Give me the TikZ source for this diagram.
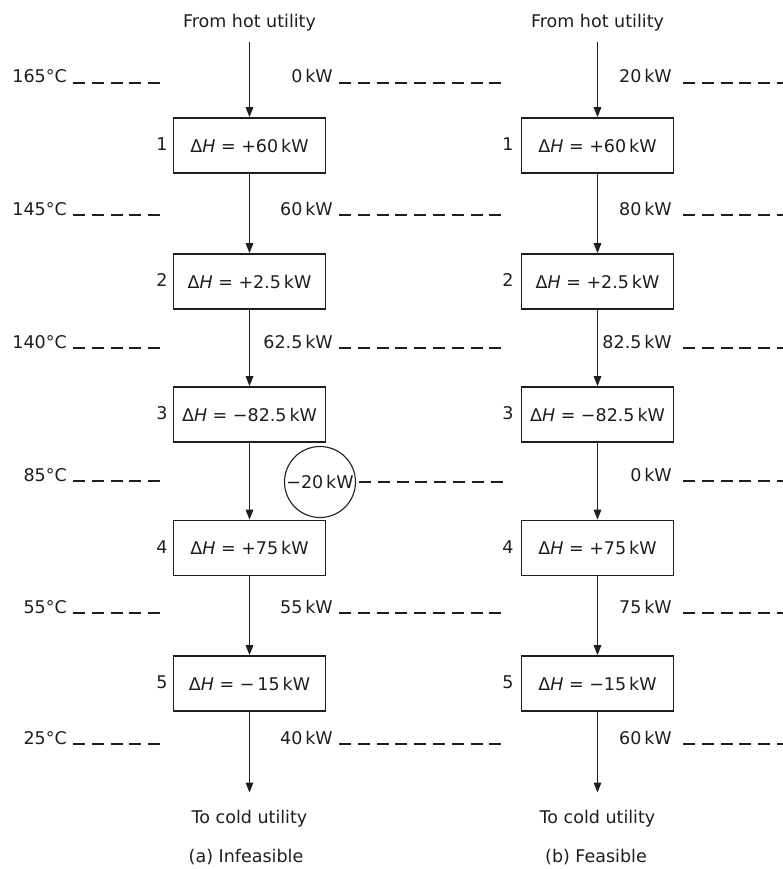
\documentclass[tikz,border=0pt]{standalone}
\usepackage{fontspec}
\setmainfont{DejaVu Sans}
\usetikzlibrary{arrows.meta}
\definecolor{ink}{HTML}{1E1E1E}
\tikzset{
  lbl/.style={text=ink, font=\fontsize{17.5}{20}\selectfont, inner sep=0pt},
  hbox/.style={lbl, draw=ink, line width=1.7pt, minimum width=152pt,
               minimum height=55pt},
  flow/.style={draw=ink, line width=1.4pt, -{Triangle[length=10pt,width=7.5pt]}},
  level/.style={draw=ink, line width=1.4pt, dash pattern=on 12pt off 6.8pt},
  ring/.style={lbl, draw=ink, line width=1.1pt, circle, minimum size=71pt},
}
\begin{document}
\begin{tikzpicture}[x=1pt, y=-1pt]
\useasboundingbox (0,0) rectangle (783,869);

% ---------------- temperature levels (left margin) ----------------
\node[lbl, anchor=base east] (T1) at (67,83)  {165°C};
\node[lbl, anchor=base east] (T2) at (67,215) {145°C};
\node[lbl, anchor=base east] (T3) at (67,348) {140°C};
\node[lbl, anchor=base east] (T4) at (67,481) {85°C};
\node[lbl, anchor=base east] (T5) at (67,613) {55°C};
\node[lbl, anchor=base east] (T6) at (67,744) {25°C};
\foreach \y in {83,215,348,481,613,744}
  \draw[level] (73,\y) -- (162,\y);

% ---------------- (a) infeasible cascade ----------------
\node[lbl, anchor=base] (hotL) at (249.5,28) {From hot utility};
\node[hbox] (L1) at (249.5,145.5) {Δ\textit{H} = +60\,kW};
\node[hbox] (L2) at (249.5,281.5) {Δ\textit{H} = +2.5\,kW};
\node[hbox] (L3) at (249.5,414.5) {Δ\textit{H} = −82.5\,kW};
\node[hbox] (L4) at (249.5,548)   {Δ\textit{H} = +75\,kW};
\node[hbox] (L5) at (249.5,683.5) {Δ\textit{H} = −\,15\,kW};
\node[lbl, anchor=base] (coldL) at (249.5,823) {To cold utility};
\node[lbl, anchor=base] (capL) at (246,862) {(a) Infeasible};

\node[lbl] (nL1) at (162,144.5) {1};
\node[lbl] (nL2) at (162,280.5) {2};
\node[lbl] (nL3) at (162,413.5) {3};
\node[lbl] (nL4) at (162,547)   {4};
\node[lbl] (nL5) at (162,682.5) {5};

\draw[flow, shorten <=10pt] (hotL.south) -- (L1.north);
\draw[flow] (L1.south) -- (L2.north);
\draw[flow] (L2.south) -- (L3.north);
\draw[flow] (L3.south) -- (L4.north);
\draw[flow] (L4.south) -- (L5.north);
\draw[flow, shorten >=17pt] (L5.south) -- (coldL.north);

\node[lbl, anchor=base east] (qL1) at (333,83)  {0\,kW};
\node[lbl, anchor=base east] (qL2) at (333,215) {60\,kW};
\node[lbl, anchor=base east] (qL3) at (333,348) {62.5\,kW};
\node[ring] (qL4) at (320,482) {−20\,kW};
\node[lbl, anchor=base east] (qL5) at (333,613) {55\,kW};
\node[lbl, anchor=base east] (qL6) at (333,744) {40\,kW};
\foreach \y in {83,215,348,613,744}
  \draw[level] (339,\y) -- (503,\y);
\coordinate (qL4end) at (503,482);
\draw[level, shorten <=3pt] (qL4.east) -- (qL4end);

% ---------------- (b) feasible cascade ----------------
\node[lbl, anchor=base] (hotR) at (597.5,28) {From hot utility};
\node[hbox] (R1) at (597.5,145.5) {Δ\textit{H} = +60\,kW};
\node[hbox] (R2) at (597.5,281.5) {Δ\textit{H} = +2.5\,kW};
\node[hbox] (R3) at (597.5,414.5) {Δ\textit{H} = −82.5\,kW};
\node[hbox] (R4) at (597.5,548)   {Δ\textit{H} = +75\,kW};
\node[hbox] (R5) at (597.5,683.5) {Δ\textit{H} = −15\,kW};
\node[lbl, anchor=base] (coldR) at (597.5,823) {To cold utility};
\node[lbl, anchor=base] (capR) at (596,862) {(b) Feasible};

\node[lbl] (nR1) at (508,144.5) {1};
\node[lbl] (nR2) at (508,280.5) {2};
\node[lbl] (nR3) at (508,413.5) {3};
\node[lbl] (nR4) at (508,547)   {4};
\node[lbl] (nR5) at (508,682.5) {5};

\draw[flow, shorten <=10pt] (hotR.south) -- (R1.north);
\draw[flow] (R1.south) -- (R2.north);
\draw[flow] (R2.south) -- (R3.north);
\draw[flow] (R3.south) -- (R4.north);
\draw[flow] (R4.south) -- (R5.north);
\draw[flow, shorten >=17pt] (R5.south) -- (coldR.north);

\node[lbl, anchor=base east] (qR1) at (672,83)  {20\,kW};
\node[lbl, anchor=base east] (qR2) at (672,215) {80\,kW};
\node[lbl, anchor=base east] (qR3) at (672,348) {82.5\,kW};
\node[lbl, anchor=base east] (qR4) at (672,481) {0\,kW};
\node[lbl, anchor=base east] (qR5) at (672,613) {75\,kW};
\node[lbl, anchor=base east] (qR6) at (672,744) {60\,kW};
\foreach \y in {83,215,348,481,613,744}
  \draw[level] (683,\y) -- (783,\y);
\end{tikzpicture}
\end{document}
